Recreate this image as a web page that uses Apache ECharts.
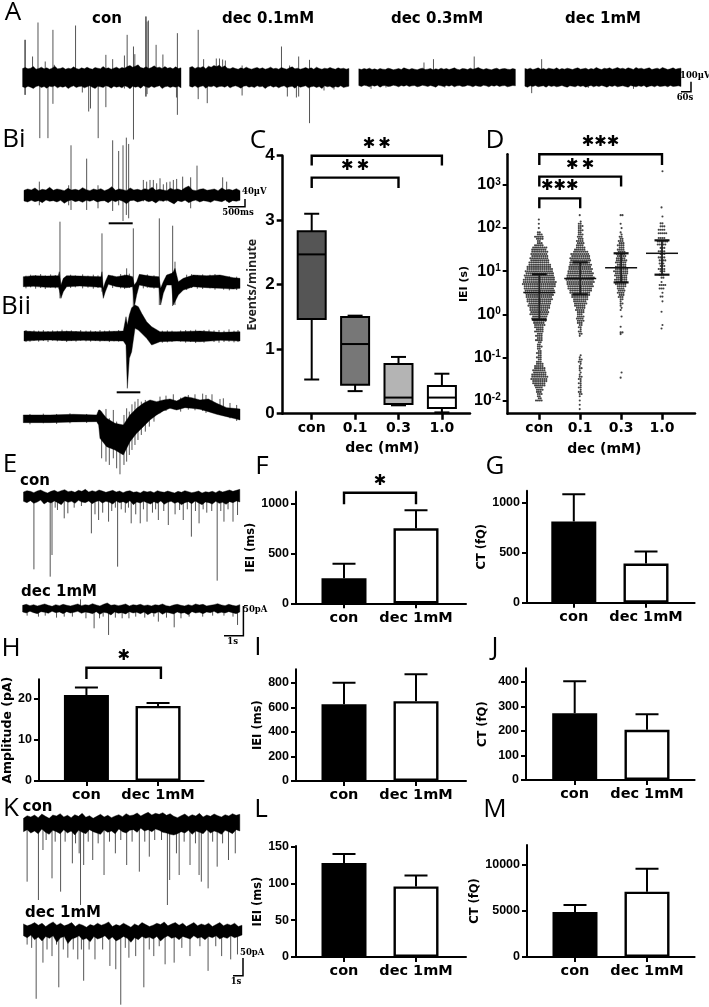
<!DOCTYPE html>
<html><head><meta charset="utf-8">
<script src="https://cdn.jsdelivr.net/npm/echarts@6/dist/echarts.min.js"></script>
<style>html,body{margin:0;padding:0;background:#fff}#c{width:709px;height:1007px;filter:blur(.35px)}</style>
</head><body><div id="c"></div>
<script>
// ---------- bar panels ----------
const barCats = ['con', 'dec 1mM'];
const fMean = [250, 750], fErr = [395, 930];
const gMean = [810, 390], gErr = [1080, 510];
const hMean = [21, 18.3], hErr = [22.8, 19];
const iMean = [625, 650], iErr = [800, 868];
const jMean = [273, 205], jErr = [403, 268];
const lMean = [128, 96], lErr = [140, 111];
const mMean = [4900, 7100], mErr = [5650, 9600];
// ---------- box panel C ----------
const boxCats = ['con', '0.1', '0.3', '1.0'];
const boxStats = [ // low, q1, median, q3, high
  [0.53, 1.47, 2.47, 2.83, 3.1],
  [0.35, 0.45, 1.08, 1.5, 1.52],
  [0.13, 0.15, 0.25, 0.77, 0.88],
  [0.02, 0.09, 0.25, 0.43, 0.62]];
const boxFill = ['#555555', '#777777', '#b4b4b4', '#ffffff'];
// ---------- swarm panel D: [log10(IEI), number of dots in row] ----------
const dConStart = -2, dConCounts = [4,2,2,3,3,4,4,6,7,8,9,9,8,7,7,6,5,4,3,2,3,2,3,2,2,3,2,2,4,3,4,3,5,4,5,6,6,7,8,8,10,10,10,11,12,12,13,14,14,15,15,16,16,17,18,18,17,16,16,15,15,14,13,12,11,10,10,9,9,9,8,8,5,3,2,4,5,3,2,0,1,0,1,0,1];
const d01Start = -2.2, d01Counts = [1,0,1,0,1,0,1,2,2,1,2,1,2,1,2,2,1,1,1,2,1,1,2,2,1,1,0,0,0,0,0,0,0,0,1,2,2,1,2,2,3,4,4,4,3,4,5,5,6,7,7,8,9,10,11,12,13,14,14,15,15,15,14,14,13,13,12,12,11,11,11,10,10,8,6,5,4,4,4,3,3,3,2,3,2,3,2,1,0,0,1];
const d03Rows = [[-1.47,1],[-1.35,1],[-.46,1],[-.42,2],[-.29,1],[-.05,1],[.1,1],[.15,1],[.2,1],[.25,2],[.3,1],[.35,2],[.4,3],[.45,3],[.5,4],[.55,4],[.6,4],[.65,5],[.7,6],[.75,6],[.8,7],[.85,6],[.9,7],[.95,7],[1,8],[1.05,7],[1.1,6],[1.15,5],[1.2,6],[1.25,6],[1.3,5],[1.35,5],[1.4,5],[1.45,4],[1.5,4],[1.55,3],[1.6,4],[1.65,3],[1.7,3],[1.75,2],[1.8,2],[1.85,1],[1.9,1],[2,1],[2.1,1],[2.3,2]];
const d10Rows = [[-.33,1],[-.25,1],[.06,1],[.3,1],[.41,2],[.5,1],[.6,3],[.68,4],[.75,1],[.85,2],[.92,3],[1,3],[1.05,4],[1.12,3],[1.18,3],[1.25,4],[1.32,4],[1.4,3],[1.46,4],[1.54,3],[1.62,5],[1.69,6],[1.77,4],[1.88,5],[1.96,4],[2.04,3],[2.11,2],[2.27,1],[2.48,1],[3.32,1]];
const dLines = [ // lower, middle, upper
  [0.75, 3.2, 8.5], [2.9, 6.8, 16], [5.5, 12, 26], [8.3, 26, 52]];
const dTicks = [0.01, 0.1, 1, 10, 100, 1000];
// ---------- significance brackets: x1, x2, top, left end, right end, number of stars ----------
const cBrackets = [[1, 4, 4, 3.85, 3.85, 2], [1, 3, 3.66, 3.5, 3.5, 2]];
const dBrackets = [[1, 4, 5150, 2900, 2900, 3], [1, 3, 1560, 920, 920, 2], [1, 2, 490, 290, 290, 3]];
const fBrackets = [[1, 2, 1106, 990, 990, 1]];
const hBrackets = [[1, 2.04, 27.6, 24.9, 24.9, 1]];
// ---------- traces: edge samples (high / low, evenly spaced) or envelope [time, high, low]; spikes [time, high, low] ----------
const aConHi = [27,30,26,28,33,25,27,31,26,29,25,28,34,26,27,30,25,28,26,32,27,25,29,26,31,27,25,30,28,26,33,27,29,25,28,31,26,30,28,33,36,31,34,38,30,28,32,27,30,35,29,31,27,33,28,30,26,32,27,29];
const aConLo = [-28,-31,-26,-29,-33,-27,-25,-30,-27,-32,-26,-28,-25,-31,-27,-29,-26,-33,-28,-25,-30,-27,-26,-31,-28,-25,-29,-33,-26,-28,-30,-25,-27,-32,-26,-29,-27,-31,-25,-28,-34,-26,-29,-27,-32,-25,-28,-31,-26,-30,-27,-25,-33,-28,-26,-30,-27,-29,-26,-31];
const aConSpikes = [[5,113,-52],[6,113,-52],[22,63,-27],[34,165,0],[38,0,-182],[50,48,0],[56,0,-182],[67,143,-79],[70,38,0],[117,156,0],[132,0,-45],[146,0,-102],[150,0,-93],[167,0,-182],[184,68,-89],[199,55,-20],[225,66,-33],[231,128,-20],[245,93,-186],[248,70,-20],[272,183,-57],[273,183,-57],[275,168,-50],[278,171,-20],[295,98,-20],[310,69,-20],[342,133,-112],[340,30,-60]];
const a01Hi = [30,33,27,31,29,33,26,34,31,36,33,37,30,35,28,26,30,27,25,29,26,31,27,25,28,30,26,29,25,27,31,26,28,25,30,27,25,29,32,26,28,25,27,30,26,29,25,31,27,25,28,26,30,27,25,29,26,28,25,27];
const a01Lo = [-26,-29,-25,-30,-27,-25,-32,-26,-28,-25,-30,-27,-26,-29,-25,-31,-27,-25,-28,-32,-26,-25,-29,-27,-30,-25,-28,-26,-33,-27,-25,-29,-26,-31,-27,-25,-30,-28,-26,-32,-25,-29,-27,-25,-31,-28,-26,-30,-27,-33,-25,-28,-26,-31,-27,-29,-25,-30,-28,-26];
const a01Spikes = [[19,143,-65],[31,55,0],[39,0,-77],[59,57,0],[66,57,0],[73,54,0],[79,51,0],[116,36,-54],[203,93,0],[216,0,-57],[221,36,0],[236,0,-60],[241,63,-57],[265,53,-137],[297,0,-39],[319,0,-36]];
const a03Hi = [26,24,27,25,28,24,26,23,27,25,24,28,26,23,25,27,24,29,26,24,27,25,23,26,28,24,25,27,23,26,24,28,25,27,24,26,29,25,23,27,26,24,28,25,27,30,26,24,27,25,23,26,28,24,26,27,25,24,27,25];
const a03Lo = [-24,-27,-23,-25,-28,-24,-26,-23,-29,-25,-24,-27,-26,-23,-25,-28,-24,-26,-23,-27,-25,-24,-28,-26,-23,-25,-27,-24,-26,-29,-23,-25,-27,-24,-26,-23,-28,-25,-24,-27,-26,-23,-25,-28,-24,-26,-27,-23,-25,-28,-24,-26,-23,-27,-25,-24,-28,-26,-24,-25];
const a03Spikes = [[27,0,-34],[144,45,0],[165,55,0],[255,63,0],[190,0,-30],[60,0,-30]];
const a10Hi = [27,25,28,24,26,29,25,27,24,28,26,25,29,24,27,25,28,26,24,27,29,25,26,28,24,27,25,30,26,24,28,26,29,25,27,30,26,28,25,29,27,24,30,26,28,25,27,29,24,26,28,25,30,27,24,26,29,25,27,28];
const a10Lo = [-26,-29,-25,-27,-24,-28,-26,-25,-29,-24,-27,-25,-28,-26,-24,-27,-29,-25,-26,-28,-24,-27,-25,-29,-26,-24,-28,-25,-27,-24,-26,-29,-25,-27,-24,-28,-26,-25,-27,-29,-24,-26,-28,-25,-27,-24,-29,-26,-25,-28,-24,-27,-26,-25,-28,-24,-27,-26,-25,-27];
const a10Spikes = [[15,0,-47],[37,55,0],[140,0,-31],[240,0,-34]];
const biTopHi = [15,19,16,22,14,18,16,24,15,19,17,14,21,16,18,15,23,17,14,19,16,20,14,18,26,15,19,17,14,22,16,18,15,20,17,24,15,18,16,14,21,17,19,15,23,28,16,14,18,20,15,17,19,14,22,16,18,15,20,14];
const biTopLo = [-17,-20,-15,-19,-16,-22,-14,-18,-16,-20,-15,-24,-17,-14,-19,-16,-21,-15,-18,-14,-20,-17,-16,-22,-15,-19,-14,-18,-25,-16,-15,-20,-17,-14,-19,-16,-23,-15,-18,-14,-20,-26,-16,-19,-15,-22,-17,-14,-20,-16,-18,-21,-15,-17,-19,-14,-22,-16,-18,-15];
const biTopSpikes = [[46,41,-30],[141,150,-44],[188,110,-44],[134,30,-30],[222,30,-39],[266,165,-47],[284,133,-30],[297,150,-77],[307,173,-59],[314,154,-69],[358,46,-18],[368,41,-18],[378,46,-18],[388,46,-18],[398,36,-18],[408,51,-18],[418,33,-18],[428,39,-18],[438,41,-18],[448,46,-18],[458,49,-18],[476,56,-18],[500,54,-39],[519,89,-18],[596,54,-18],[608,41,-18]];
const biBotEnv = [[0,15,-15],[30,18,-14],[70,17,-17],[105,18,-17],[108,30,-25],[113,-10,-50],[120,10,-30],[130,18,-15],[170,17,-13],[233,15,-17],[236,30,-20],[240,-20,-50],[246,0,-30],[255,20,-8],[280,15,-15],[310,20,-18],[328,15,-15],[333,-10,-75],[340,0,-40],[348,22,-10],[380,17,-17],[407,15,-18],[412,-20,-70],[420,0,-35],[430,20,-10],[445,25,-10],[450,30,-70],[455,40,-60],[465,0,-40],[480,10,-25],[510,20,-15],[550,18,-18],[590,20,-20],[630,12,-22],[650,10,-20]];
const biBotSpikes = [[110,180,-50],[236,145,-30],[310,40,0],[330,160,-75],[408,190,-70],[448,168,-73],[455,60,-70],[8,18,-20],[22,21,-17],[37,20,-21],[52,23,-19],[66,19,-22],[82,22,-18],[96,20,-20],[142,21,-19],[156,19,-17],[178,22,-20],[194,18,-18],[210,21,-21],[224,19,-19],[268,18,-19],[292,23,-20],[304,21,-22],[318,24,-19],[360,20,-20],[372,22,-18],[392,19,-21],[490,21,-25],[505,23,-19],[522,20,-21],[538,22,-22],[560,21,-20],[575,23,-24],[601,17,-24],[618,16,-26],[640,15,-25]];
const biiTopEnv = [[0,14,-16],[40,12,-14],[78,12,-13],[130,13,-15],[178,12,-14],[230,12,-15],[298,14,-16],[306,57,-28],[310,32,-158],[316,62,-68],[323,84,-48],[333,92,22],[343,87,17],[353,67,7],[368,42,-8],[383,27,-28],[408,12,-18],[458,12,-16],[528,14,-18],[590,10,-14],[648,12,-16]];
const biiTopSpikes = [[6,17,-19],[18,14,-18],[30,16,-15],[44,15,-18],[58,17,-16],[72,14,-19],[86,16,-15],[100,15,-17],[114,18,-16],[128,15,-19],[142,16,-16],[156,14,-18],[170,17,-15],[186,15,-17],[200,16,-18],[214,14,-16],[228,17,-18],[242,15,-16],[256,16,-19],[270,14,-17],[284,17,-18],[415,15,-21],[430,16,-20],[444,15,-19],[470,16,-18],[485,17,-21],[500,16,-19],[515,18,-22],[540,17,-21],[555,18,-16],[570,16,-19],[585,17,-21],[600,15,-19],[615,19,-18],[630,15,-20],[642,17,-19]];
const biiBotEnv = [[0,10,-13],[80,10,-13],[150,12,-11],[220,10,-10],[226,25,-20],[230,25,-60],[250,0,-85],[275,-15,-95],[300,-20,-110],[320,10,-70],[340,30,-45],[360,45,-25],[380,55,-5],[400,50,10],[420,55,22],[440,58,30],[460,52,25],[485,65,32],[505,62,30],[530,55,27],[555,58,20],[580,45,12],[610,32,5],[630,30,0],[650,28,-5]];
const biiBotSpikes = [[235,20,-120],[248,28,-130],[258,0,-140],[270,25,-120],[280,-10,-150],[290,-20,-168],[302,10,-140],[310,30,-130],[318,20,-110],[326,42,-95],[335,50,-80],[344,58,-65],[354,50,-50],[366,55,-40],[378,50,-25],[392,50,-10],[410,65,15],[428,68,22],[450,72,28],[472,62,20],[495,70,26],[515,72,24],[538,74,22],[548,70,16],[566,72,18],[590,58,10],[600,60,8],[620,46,0],[640,40,-8],[20,13,-18],[60,14,-15],[100,13,-17],[140,15,-15],[190,13,-14]];
const eConHi = [12,16,14,10,15,18,13,9,14,17,12,16,19,13,15,11,17,14,20,12,16,13,18,15,11,14,17,12,15,10,14,16,11,13,9,15,12,14,10,16,13,11,15,12,9,14,11,16,13,10,12,15,9,13,11,14,10,16,12,15,18,14,17,20];
const eConLo = [-16,-20,-14,-22,-18,-12,-24,-17,-21,-15,-20,-26,-14,-19,-16,-22,-13,-18,-20,-15,-23,-17,-14,-21,-16,-19,-24,-15,-20,-17,-22,-14,-26,-18,-21,-16,-20,-24,-17,-22,-15,-25,-19,-16,-22,-18,-26,-20,-17,-23,-15,-21,-26,-18,-20,-24,-16,-22,-19,-25,-17,-20,-15,-18];
const eConSpikes = [[23,0,-220],[59,0,-242],[63,0,-177],[70,0,-35],[75,0,-42],[90,0,-67],[98,0,-52],[112,0,-35],[128,0,-30],[150,0,-112],[158,0,-55],[166,0,-72],[175,0,-50],[188,0,-77],[195,0,-45],[203,0,-35],[208,0,-212],[216,0,-40],[225,0,-50],[232,0,-35],[238,0,-82],[248,0,-55],[258,0,-82],[265,0,-40],[273,0,-77],[285,0,-50],[292,0,-40],[298,0,-72],[310,0,-45],[320,0,-87],[335,0,-55],[345,0,-42],[353,0,-72],[362,0,-40],[371,0,-122],[380,0,-45],[388,0,-82],[397,0,-40],[405,0,-50],[416,0,-45],[428,0,-254],[436,0,-45],[443,0,-77],[452,0,-40],[463,0,-77],[473,0,-57]];
const eDecHi = [9,12,8,11,7,10,13,9,6,11,8,12,9,7,10,13,8,11,9,14,10,7,12,16,9,11,8,10,13,7,11,9,12,8,10,7,11,9,13,8,6,10,12,9,7,11,8,13,10,12,7,9,11,14,10,8,12,9,7,11];
const eDecLo = [-11,-14,-9,-13,-16,-10,-12,-15,-9,-13,-11,-16,-10,-14,-12,-9,-15,-11,-13,-16,-10,-18,-12,-14,-20,-11,-15,-13,-17,-10,-14,-12,-16,-11,-19,-13,-15,-10,-18,-12,-14,-17,-11,-15,-13,-19,-10,-14,-12,-16,-11,-13,-9,-15,-12,-14,-10,-13,-16,-11];
const eDecSpikes = [[10,0,-22],[35,0,-25],[50,0,-22],[75,0,-28],[92,0,-25],[110,0,-25],[128,27,0],[140,0,-30],[158,0,-60],[170,0,-30],[178,0,-25],[190,0,-80],[205,0,-28],[220,0,-30],[235,0,-30],[250,0,-25],[270,0,-28],[290,0,-25],[300,0,-40],[318,0,-28],[335,0,-57],[350,0,-30],[368,0,-25],[398,0,-25],[420,0,-22],[445,0,-22],[465,0,-25],[475,0,-50]];
const kConHi = [20,28,24,30,22,33,26,20,30,27,34,24,29,22,31,26,35,23,28,20,26,32,24,29,22,27,31,25,34,28,30,36,27,33,38,30,35,32,37,29,34,26,22,28,33,25,31,27,35,24,30,26,33,28,24,31,27,34,29,32];
const kConLo = [-20,-14,-24,-18,-26,-12,-22,-28,-16,-20,-26,-14,-24,-18,-30,-16,-22,-26,-14,-20,-24,-28,-15,-22,-18,-26,-12,-20,-24,-16,-14,-22,-10,-18,-14,-20,-12,-16,-22,-24,-28,-30,-26,-20,-24,-16,-28,-18,-22,-26,-14,-24,-18,-22,-28,-16,-20,-26,-14,-18];
const kConSpikes = [[8,0,-170],[33,0,-225],[43,0,-75],[50,0,-45],[63,0,-160],[70,0,-50],[82,0,-200],[92,0,-50],[108,0,-115],[115,0,-55],[123,0,-85],[126,0,-240],[133,0,-120],[143,0,-50],[153,0,-105],[165,0,-55],[178,0,-150],[190,0,-50],[203,0,-85],[215,0,-45],[228,0,-120],[240,0,-50],[256,0,-140],[268,0,-50],[278,0,-95],[290,0,-45],[305,0,-45],[318,0,-240],[323,0,-165],[338,0,-85],[344,0,-150],[355,0,-50],[368,0,-120],[380,0,-55],[388,0,-150],[393,0,-170],[408,0,-190],[418,0,-50],[428,0,-125],[440,0,-55],[453,0,-105],[468,0,-85]];
const kDecHi = [18,12,16,22,14,20,10,18,24,14,20,12,16,22,10,18,14,8,16,12,20,14,18,24,10,16,12,20,14,8,18,12,22,16,10,14,20,16,24,12,18,22,14,20,10,16,22,12,18,14,20,10,16,22,12,18,14,20,10,14];
const kDecLo = [-18,-24,-16,-30,-22,-34,-20,-26,-18,-38,-24,-20,-42,-28,-24,-18,-30,-26,-36,-20,-28,-24,-18,-30,-22,-34,-28,-20,-26,-38,-24,-30,-20,-26,-22,-28,-20,-34,-24,-18,-26,-22,-30,-20,-24,-28,-18,-26,-22,-30,-20,-24,-18,-28,-22,-26,-18,-24,-20,-16];
const kDecSpikes = [[8,0,-45],[18,0,-55],[28,0,-210],[43,0,-100],[52,0,-60],[63,0,-80],[73,0,-45],[78,0,-175],[88,0,-60],[98,0,-85],[110,0,-60],[120,0,-90],[128,0,-60],[133,0,-155],[145,0,-60],[158,0,-90],[175,0,-60],[191,0,-110],[204,0,-120],[215,0,-228],[225,0,-55],[233,0,-85],[248,0,-80],[266,0,-175],[278,0,-60],[288,0,-80],[300,0,-50],[313,0,-105],[333,0,-100],[350,0,-55],[368,0,-80],[390,0,-50],[408,0,-125],[425,0,-50],[438,0,-80],[458,0,-90],[473,0,-75]];

// ---------- layout (pixels) ----------
const ink = '#000', spikeInk = '#555';
const labelFont = 'DejaVu Sans';
const tickFont = 'Liberation Sans';
const edges = (hi, lo, w) => hi.map((h, i) => [i * w / (hi.length - 1), h, lo[i]]);
const traces = [
  {env:edges(aConHi,aConLo,350), spikes:aConSpikes, left:22.6, width:158.4, w:350, cy:77.5, lo:-195, hi:195},
  {env:edges(a01Hi,a01Lo,352), spikes:a01Spikes, left:189.6, width:159.3, w:352, cy:77.5, lo:-195, hi:195},
  {env:edges(a03Hi,a03Lo,346), spikes:a03Spikes, left:358.8, width:156.6, w:346, cy:77.5, lo:-195, hi:195},
  {env:edges(a10Hi,a10Lo,345), spikes:a10Spikes, left:524.9, width:156.1, w:345, cy:77.5, lo:-195, hi:195},
  {env:edges(biTopHi,biTopLo,648), spikes:biTopSpikes, left:24, width:216, w:648, cy:195.3, lo:-90, hi:180},
  {env:biBotEnv, spikes:biBotSpikes, left:23.3, width:216.7, w:650, cy:281.7, lo:-90, hi:200},
  {env:biiTopEnv, spikes:biiTopSpikes, left:24, width:216, w:648, cy:335.7, lo:-170, hi:100},
  {env:biiBotEnv, spikes:biiBotSpikes, left:23.3, width:216.7, w:650, cy:418.3, lo:-180, hi:80},
  {env:edges(eConHi,eConLo,478), spikes:eConSpikes, left:23.5, width:216.3, w:478, cy:496, lo:-260, hi:30},
  {env:edges(eDecHi,eDecLo,480), spikes:eDecSpikes, left:22.6, width:217.2, w:480, cy:608.3, lo:-90, hi:40},
  {env:edges(kConHi,kConLo,478), spikes:kConSpikes, left:23.5, width:216.3, w:478, cy:825, lo:-250, hi:50},
  {env:edges(kDecHi,kDecLo,483), spikes:kDecSpikes, left:23.5, width:218.5, w:483, cy:930, lo:-235, hi:40}
];
const barPanels = [
  {mean:fMean, err:fErr, brackets:fBrackets, name:'IEI (ms)', gap:38, left:296, right:466, top:491.7, bottom:603.3, x1:344, x2:416, max:1116, ticks:[0,500,1000]},
  {mean:gMean, err:gErr, name:'CT (fQ)', gap:38, left:527, right:694.6, top:490.7, bottom:602.7, x1:573.8, x2:646, max:1116, ticks:[0,500,1000]},
  {mean:hMean, err:hErr, brackets:hBrackets, name:'Amplitude (pA)', gap:25, nameSize:12.5, left:37, right:203.6, top:679.3, bottom:781, x1:85, x2:157.5, max:24.8, ticks:[0,10,20]},
  {mean:iMean, err:iErr, name:'IEI (ms)', gap:32, left:296, right:466, top:669.3, bottom:781, x1:344, x2:416, max:909, ticks:[0,200,400,600,800]},
  {mean:jMean, err:jErr, name:'CT (fQ)', gap:37, left:526, right:694.6, top:668.3, bottom:780, x1:574.7, x2:647, max:456, ticks:[0,100,200,300,400]},
  {mean:lMean, err:lErr, name:'IEI (ms)', gap:32, left:296, right:466, top:846, bottom:957, x1:344, x2:416, max:151, ticks:[0,50,100,150]},
  {mean:mMean, err:mErr, name:'CT (fQ)', gap:38, left:527, right:694.6, top:845, bottom:957, x1:575, x2:647, max:12170, ticks:[0,5000,10000]}
];
const C = {left:282.7, right:470, top:155.7, bottom:413.7, x1:311.7, x2:355.1};
const D = {left:507.7, right:695, top:154.3, bottom:413.7, x1:539.3, x2:580.2};

// ---------- builders ----------
const grids = [], xAxes = [], yAxes = [], series = [];
function addGrid(g) {
  grids.push({left:g.left, top:g.top, width:g.width, height:g.height, containLabel:false});
  xAxes.push(Object.assign({gridIndex:grids.length-1}, g.x));
  yAxes.push(Object.assign({gridIndex:grids.length-1}, g.y));
  return grids.length-1;
}
const hiddenAxis = {type:'value', show:false, scale:true};
traces.forEach(t => {
  const idx = addGrid({left:t.left, width:t.width, top:t.cy - t.hi/3, height:(t.hi - t.lo)/3,
    x:Object.assign({}, hiddenAxis, {min:0, max:t.w}), y:Object.assign({}, hiddenAxis, {min:t.lo, max:t.hi})});
  series.push({type:'custom', xAxisIndex:idx, yAxisIndex:idx, silent:true, animation:false, clip:false, z:2,
    data:t.spikes, encode:{x:0, y:[1,2]},
    renderItem:(p, api) => {
      const a = api.coord([api.value(0), api.value(1)]), b = api.coord([api.value(0), api.value(2)]);
      return {type:'line', shape:{x1:a[0], y1:a[1], x2:b[0], y2:b[1]}, style:{stroke:spikeInk, lineWidth:1}};
    }});
  series.push({type:'custom', xAxisIndex:idx, yAxisIndex:idx, silent:true, animation:false, clip:false, z:3,
    data:t.env, encode:{x:0, y:[1,2]},
    renderItem:(p, api) => {
      if (p.dataIndex !== 0) return null;
      const up = t.env.map(e => api.coord([e[0], e[1]]));
      const dn = t.env.map(e => api.coord([e[0], e[2]])).reverse();
      return {type:'polygon', shape:{points:up.concat(dn)}, style:{fill:ink, stroke:ink, lineWidth:.4}};
    }});
});
function axisStyle(size, w) {
  return {axisLine:{show:true, onZero:false, lineStyle:{color:ink, width:w||2}}, splitLine:{show:false}};
}
function xRange(p) {
  const u = p.x2 - p.x1;
  return {min:1 - (p.x1 - p.left)/u, max:1 + (p.right - p.x1)/u};
}
function bracketSeries(idx, rows) {
  return {type:'custom', xAxisIndex:idx, yAxisIndex:idx, silent:true, animation:false, clip:false, z:5,
    data:rows, encode:{x:[0,1], y:[2,3,4]},
    renderItem:(p, api) => {
      const v = i => api.value(i);
      const a = api.coord([v(0), v(3)]), b = api.coord([v(0), v(2)]), c = api.coord([v(1), v(2)]), d = api.coord([v(1), v(4)]);
      const n = v(5), step = n === 2 ? 15.7 : 12.5, mid = (b[0] + c[0]) / 2;
      const kids = [{type:'polyline', shape:{points:[a, b, c, d]}, style:{fill:null, stroke:ink, lineWidth:2.4}}];
      for (let i = 0; i < n; i++) {
        kids.push({type:'text', style:{text:'\u2731', x:mid + (i - (n-1)/2)*step, y:b[1]-12, fill:ink,
          font:'bold 15px DejaVu Sans', textAlign:'center', textVerticalAlign:'middle'}});
      }
      return {type:'group', children:kids};
    }};
}
function errorSeries(idx, rows, capHalf) {
  return {type:'custom', xAxisIndex:idx, yAxisIndex:idx, silent:true, animation:false, clip:false, z:3,
    data:rows, encode:{x:0, y:[1,2]},
    renderItem:(p, api) => {
      const a = api.coord([api.value(0), api.value(1)]), b = api.coord([api.value(0), api.value(2)]);
      return {type:'polyline', shape:{points:[[b[0]-capHalf,b[1]],[b[0]+capHalf,b[1]],b,a]}, style:{fill:null, stroke:ink, lineWidth:2}};
    }};
}
barPanels.forEach(p => {
  const r = xRange(p);
  const idx = addGrid({left:p.left, width:p.right-p.left, top:p.top, height:p.bottom-p.top,
    x:Object.assign({type:'value'}, r, axisStyle(5), {
      axisTick:{show:true, length:5, customValues:[1,2], lineStyle:{color:ink, width:2}},
      axisLabel:{customValues:[1,2], formatter:v => barCats[v-1], margin:7, color:ink, fontFamily:labelFont, fontWeight:'bold', fontSize:14.5, width:90, overflow:'none'}}),
    y:Object.assign({type:'value', min:0, max:p.max}, axisStyle(5), {
      axisTick:{show:true, length:5, customValues:p.ticks, lineStyle:{color:ink, width:2}},
      axisLabel:{customValues:p.ticks, formatter:v => String(v), margin:7, color:ink, fontFamily:tickFont, fontWeight:'bold', fontSize:12.5},
      name:p.name, nameLocation:'middle', nameGap:p.gap, nameRotate:90,
      nameTextStyle:{color:ink, fontFamily:labelFont, fontWeight:'bold', fontSize:p.nameSize||11.5}})});
  series.push({type:'bar', xAxisIndex:idx, yAxisIndex:idx, silent:true, animation:false, barWidth:45,
    data:p.mean.map((m,i) => ({value:[i+1, m], itemStyle:{color:i? '#fff':ink, borderColor:ink, borderWidth:2.4}}))});
  series.push(errorSeries(idx, p.mean.map((m,i) => [i+1, m, p.err[i]]), 11.5));
  if (p.brackets) series.push(bracketSeries(idx, p.brackets));
});
// Panel C
{
  const idx = addGrid({left:C.left, width:C.right-C.left, top:C.top, height:C.bottom-C.top,
    x:Object.assign({type:'value'}, xRange(C), axisStyle(6, 2.5), {
      name:'dec (mM)', nameLocation:'middle', nameGap:28, nameTextStyle:{color:ink, fontFamily:labelFont, fontWeight:'bold', fontSize:14, padding:[0,0,0,12]},
      axisTick:{show:true, length:6, customValues:[1,2,3,4], lineStyle:{color:ink, width:2.5}},
      axisLabel:{customValues:[1,2,3,4], formatter:v => boxCats[v-1], margin:8, color:ink, fontFamily:labelFont, fontWeight:'bold', fontSize:14}}),
    y:Object.assign({type:'value', min:0, max:4}, axisStyle(6, 2.5), {
      axisTick:{show:true, length:6, customValues:[0,1,2,3,4], lineStyle:{color:ink, width:2.5}},
      axisLabel:{customValues:[0,1,2,3,4], margin:8, color:ink, fontFamily:tickFont, fontWeight:'bold', fontSize:17},
      name:'Events/minute', nameLocation:'middle', nameGap:24, nameRotate:90,
      nameTextStyle:{color:'#222', fontFamily:'Open Sans', fontWeight:'bold', fontSize:12.5}})});
  series.push({type:'custom', xAxisIndex:idx, yAxisIndex:idx, silent:true, animation:false, clip:false,
    data:boxStats.map((s,i) => [i+1].concat(s)), encode:{x:0, y:[1,2,3,4,5]},
    renderItem:(p, api) => {
      const x = api.value(0), c = i => api.coord([x, api.value(i)]);
      const lo = c(1), q1 = c(2), med = c(3), q3 = c(4), hi = c(5), hw = 14, cap = 7.5;
      const st = {fill:null, stroke:ink, lineWidth:2};
      return {type:'group', children:[
        {type:'line', shape:{x1:lo[0], y1:lo[1], x2:hi[0], y2:hi[1]}, style:st},
        {type:'line', shape:{x1:lo[0]-cap, y1:lo[1], x2:lo[0]+cap, y2:lo[1]}, style:st},
        {type:'line', shape:{x1:hi[0]-cap, y1:hi[1], x2:hi[0]+cap, y2:hi[1]}, style:st},
        {type:'rect', shape:{x:q3[0]-hw, y:q3[1], width:2*hw, height:q1[1]-q3[1]}, style:{fill:boxFill[p.dataIndex], stroke:ink, lineWidth:2}},
        {type:'line', shape:{x1:med[0]-hw, y1:med[1], x2:med[0]+hw, y2:med[1]}, style:st}
      ]};
    }});
  series.push(bracketSeries(idx, cBrackets));
}
// Panel D
{
  const swarmStep = 0.046;
  const dots = [];
  const fromCounts = (start, counts) => counts.map((n,i) => [start + i*0.05, n]);
  [fromCounts(dConStart, dConCounts), fromCounts(d01Start, d01Counts), d03Rows, d10Rows].forEach((rows, g) => {
    rows.forEach((r, j) => {
      for (let k = 0; k < r[1]; k++) {
        const off = (k - (r[1]-1)/2 + (j%2 ? .25 : -.25)) * swarmStep;
        dots.push([g + 1 + off, Math.pow(10, r[0])]);
      }
    });
  });
  const idx = addGrid({left:D.left, width:D.right-D.left, top:D.top, height:D.bottom-D.top,
    x:Object.assign({type:'value'}, xRange(D), axisStyle(6, 2.5), {
      name:'dec (mM)', nameLocation:'middle', nameGap:29, nameTextStyle:{color:ink, fontFamily:labelFont, fontWeight:'bold', fontSize:14, padding:[0,0,0,6]},
      axisTick:{show:true, length:6, customValues:[1,2,3,4], lineStyle:{color:ink, width:2.5}},
      axisLabel:{customValues:[1,2,3,4], formatter:v => boxCats[v-1], margin:8, color:ink, fontFamily:labelFont, fontWeight:'bold', fontSize:14}}),
    y:Object.assign({type:'log', logBase:10, min:0.00494, max:5150}, axisStyle(5, 2.5), {
      axisTick:{show:true, length:5, customValues:dTicks, lineStyle:{color:ink, width:2}},
      axisLabel:{customValues:dTicks, margin:7, color:ink,
        formatter:v => '{b|10}{s|' + Math.round(Math.log10(v)) + '}',
        rich:{b:{fontFamily:tickFont, fontWeight:'bold', fontSize:16, color:ink},
              s:{fontFamily:tickFont, fontWeight:'bold', fontSize:10, color:ink, verticalAlign:'top', padding:[0,0,3,0]}}},
      name:'IEI (s)', nameLocation:'middle', nameGap:33, nameRotate:90,
      nameTextStyle:{color:ink, fontFamily:labelFont, fontWeight:'bold', fontSize:11}})});
  series.push({type:'scatter', xAxisIndex:idx, yAxisIndex:idx, silent:true, animation:false, large:false,
    symbolSize:2.1, itemStyle:{color:'#111'}, data:dots});
  series.push({type:'custom', xAxisIndex:idx, yAxisIndex:idx, silent:true, animation:false, clip:false, z:4,
    data:dLines.map((l,i) => [i+1].concat(l)), encode:{x:0, y:[1,2,3]},
    renderItem:(p, api) => {
      const x = api.value(0), lo = api.coord([x, api.value(1)]), mid = api.coord([x, api.value(2)]), hi = api.coord([x, api.value(3)]);
      const st = {fill:null, stroke:'#111', lineWidth:2.2}, cap = 7.5, mw = 16;
      return {type:'group', children:[
        {type:'line', shape:{x1:lo[0], y1:lo[1], x2:hi[0], y2:hi[1]}, style:{stroke:'#222', lineWidth:1.8}},
        {type:'line', shape:{x1:lo[0]-cap, y1:lo[1], x2:lo[0]+cap, y2:lo[1]}, style:st},
        {type:'line', shape:{x1:hi[0]-cap, y1:hi[1], x2:hi[0]+cap, y2:hi[1]}, style:st},
        {type:'line', shape:{x1:mid[0]-mw, y1:mid[1], x2:mid[0]+mw, y2:mid[1]}, style:{stroke:'#111', lineWidth:1.5}}
      ]};
    }});
  series.push(bracketSeries(idx, dBrackets));
}

// ---------- annotations ----------
const text = (t, x, y, font, align) => ({type:'text', silent:true, x, y, style:{text:t, fill:ink, font, textAlign:align||'center', textVerticalAlign:'middle'}});
const poly = (pts, w) => ({type:'polyline', silent:true, shape:{points:pts}, style:{fill:null, stroke:ink, lineWidth:w||1.5}});
const letter = 'normal 26px "Open Sans"';
const head = 'bold 15px "DejaVu Sans"';
const small = 'bold 8.5px "DejaVu Serif"';
const graphics = [
  text('A',13,13,letter), text('Bi',14,140,letter), text('Bii',16,307,letter), text('C',258,141,letter), text('D',495,141,letter),
  text('E',10,465,letter), text('F',262,467,letter), text('G',495,467,letter), text('H',11,649,letter), text('I',258,648,letter),
  text('J',495,648,letter), text('K',11,809,letter), text('L',261,810,letter), text('M',495,810,letter),
  text('con',107,19,head), text('dec 0.1mM',268,19,head), text('dec 0.3mM',437,19,head), text('dec 1mM',603,19,head),
  text('con',35,481,head), text('dec 1mM',59,591.7,head), text('con',37.5,807.3,head), text('dec 1mM',63,912.7,head),
  text('100µV',680,76,small,'left'), text('60s',685,98,small),
  text('40µV',242,191.7,small,'left'), text('500ms',238,212.3,small),
  text('50pA',243,610,small,'left'), text('1s',232.6,641.7,small),
  text('50pA',240,953,small,'left'), text('1s',236,981.7,small),
  poly([[681,91.7],[691,91.7],[691,81.7]]), poly([[228,206.7],[245,206.7],[245,199]]),
  poly([[224,635.7],[243.4,635.7],[243.4,606]]), poly([[233,975.7],[243,975.7],[243,958]]),
  poly([[108.7,223.3],[132.7,223.3]],2), poly([[116.7,392.3],[140.3,392.3]],2)
];
const chart = echarts.init(document.getElementById('c'), null, {renderer:'canvas'});
chart.setOption({animation:false, backgroundColor:'#fff', grid:grids, xAxis:xAxes, yAxis:yAxes, series, graphic:{elements:graphics}});
</script></body></html>
